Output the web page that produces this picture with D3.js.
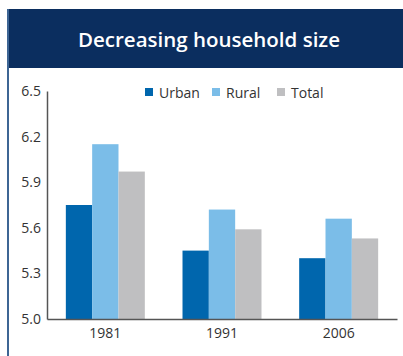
<!DOCTYPE html>
<html>
<head>
<meta charset="utf-8">
<script src="https://cdn.jsdelivr.net/npm/d3@7"></script>
<style>
  html, body { margin: 0; padding: 0; background: #fff; }
  svg { display: block; font-family: "Open Sans", "Noto Sans", sans-serif; }
</style>
</head>
<body>
<svg id="chart" width="403" height="356"></svg>
<script>
// Average household size by area type
const years = ["1981", "1991", "2006"];
const seriesNames = ["Urban", "Rural", "Total"];
const urban = [5.75, 5.45, 5.40];
const rural = [6.15, 5.72, 5.66];
const total = [5.97, 5.59, 5.53];
const yTicks = [5.0, 5.3, 5.6, 5.9, 6.2, 6.5];
const colors = ["#0066ad", "#7bbde8", "#bfbfc1"];

const rows = years.map((yr, i) => ({
  year: yr,
  values: [urban[i], rural[i], total[i]]
}));

const svg = d3.select("#chart");

// Title banner and left frame rule
svg.append("rect").attr("x", 8).attr("y", 9).attr("width", 395).attr("height", 59)
  .attr("fill", "#0b2e5f");
svg.append("rect").attr("x", 7).attr("y", 9).attr("width", 2).attr("height", 347)
  .attr("fill", "#3d6594");
svg.append("text")
  .attr("x", 209).attr("y", 47)
  .attr("text-anchor", "middle")
  .attr("fill", "#fff")
  .attr("font-size", 20.5)
  .attr("font-weight", 600)
  .text("Decreasing household size");

const plotLeft = 47, plotRight = 397, plotTop = 91, plotBottom = 319;

const y = d3.scaleLinear().domain([5.0, 6.5]).range([plotBottom, plotTop]);
const x0 = d3.scaleBand().domain(years).range([plotLeft, plotRight])
  .paddingInner(0.323).paddingOuter(0.1615);
const x1 = d3.scaleBand().domain(seriesNames).range([0, x0.bandwidth()]);

// Bars
const groups = svg.append("g").selectAll("g").data(rows).join("g")
  .attr("transform", d => `translate(${x0(d.year)},0)`);
groups.selectAll("rect")
  .data(d => d.values.map((v, i) => ({ name: seriesNames[i], v, i })))
  .join("rect")
  .attr("x", d => x1(d.name))
  .attr("width", x1.bandwidth())
  .attr("y", d => y(d.v))
  .attr("height", d => y(5.0) - y(d.v))
  .attr("fill", d => colors[d.i]);

// Y axis
const yAxis = svg.append("g").attr("transform", `translate(${plotLeft},0)`)
  .call(d3.axisLeft(y).tickValues(yTicks).tickFormat(d3.format(".1f")).tickSize(0).tickPadding(6));
yAxis.select(".domain").attr("stroke", "#555").attr("stroke-width", 1.5);
yAxis.selectAll("text").attr("font-size", 14).attr("fill", "#333")
  .attr("font-family", "'Open Sans', 'Noto Sans', sans-serif");

// X axis
const xAxis = svg.append("g").attr("transform", `translate(0,${plotBottom})`)
  .call(d3.axisBottom(x0).tickSize(0).tickPadding(9));
xAxis.select(".domain").attr("stroke", "#555").attr("stroke-width", 1.5);
xAxis.selectAll("text").attr("font-size", 14).attr("fill", "#333")
  .attr("font-family", "'Open Sans', 'Noto Sans', sans-serif");

// Legend
const legendX = [145, 212, 277];
const legend = svg.append("g").selectAll("g").data(seriesNames).join("g")
  .attr("transform", (d, i) => `translate(${legendX[i]},88)`);
legend.append("rect").attr("width", 8).attr("height", 8)
  .attr("fill", (d, i) => colors[i]);
legend.append("text").attr("x", 14).attr("y", 9.5)
  .attr("font-size", 14).attr("fill", "#333")
  .text(d => d);
</script>
</body>
</html>
